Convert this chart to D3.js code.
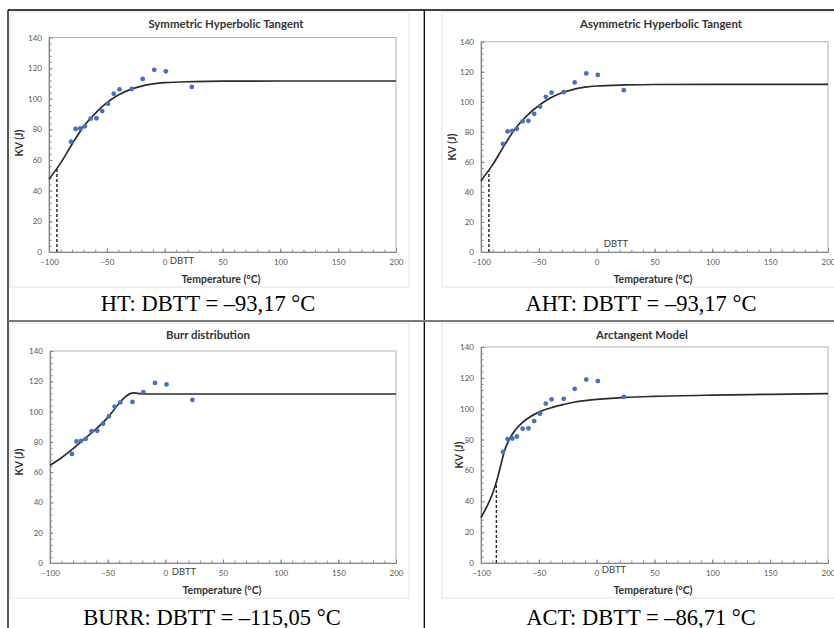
<!DOCTYPE html>
<html>
<head>
<meta charset="utf-8">
<script src="https://cdn.jsdelivr.net/npm/d3@7"></script>
<style>
  body { margin: 0; background: #fff; }
  svg { display: block; }
</style>
</head>
<body>
<svg id="fig" width="834" height="628"></svg>
<script>
// measured Charpy points, same in all four fits
const temps = [-81, -77, -73, -69, -64, -59, -54, -49, -44, -39, -28.5, -19, -9, 1, 23.5];
const kv = [72, 80.3, 80.7, 82, 87, 87.3, 92, 96.8, 103.3, 106.1, 106.4, 112.9, 118.9, 117.9, 107.7];

// fitted curves
const htT = [-100, -90, -80, -70, -60, -50, -40, -30, -20, -10, 0, 25, 50, 100, 200];
const htKV = [47.5, 58, 70.5, 82, 90.5, 97.5, 102.5, 106, 108.3, 109.7, 110.5, 111.2, 111.5, 111.6, 111.6];
const ahtT = [-100, -90, -80, -70, -60, -50, -40, -30, -20, -10, 0, 25, 50, 100, 200];
const ahtKV = [47.5, 58, 70.8, 82.5, 91, 97.5, 102.5, 106, 108.3, 109.7, 110.5, 111.2, 111.5, 111.6, 111.6];
const burrT = [-100, -90, -80, -70, -60, -50, -40, -35, -30, -27, -22, -15, 0, 50, 200];
const burrKV = [64.5, 69.5, 75.5, 82, 88.5, 96, 105.5, 109.5, 112, 112.3, 111.8, 111.6, 111.6, 111.6, 111.6];
const actT = [-100, -95, -90, -86.7, -83, -80, -76, -70, -65, -60, -50, -40, -30, -20, -10, 0, 25, 50, 100, 150, 200];
const actKV = [29.5, 36.5, 45, 52.5, 63, 72, 79.5, 86.5, 90.5, 93.5, 97.8, 100.5, 102.5, 104.2, 105.3, 106, 107.3, 108, 108.8, 109.3, 109.8];

const titles = ["Symmetric Hyperbolic Tangent", "Asymmetric Hyperbolic Tangent", "Burr distribution", "Arctangent Model"];
const captions = ["HT: DBTT = \u201393,17 \u00b0C", "AHT: DBTT = \u201393,17 \u00b0C", "BURR: DBTT = \u2013115,05 \u00b0C", "ACT: DBTT = \u201386,71 \u00b0C"];
const dbtt = [-93.17, -93.17, null, -86.71];
const dbttKV = [54.5, 54.5, null, 52.5];
const xTicks = [-100, -50, 0, 50, 100, 150, 200];
const yTicks = [0, 20, 40, 60, 80, 100, 120, 140];

const curves = [[htT, htKV], [ahtT, ahtKV], [burrT, burrKV], [actT, actKV]];

// layout of each panel (pixels)
const panels = [
  { L: 49, R: 396, T: 37.5, B: 252, area: [10, 12, 399, 275], titleX: 226, titleY: 24,
    kvX: 19, kvY: 143, tempX: 221, tempY: 279, capX: 208, capY: 311, dbX: 182, dbY: 261 },
  { L: 481, R: 828, T: 41.7, B: 252, area: [442, 12, 400, 275], titleX: 661, titleY: 24,
    kvX: 452, kvY: 147, tempX: 653, tempY: 279, capX: 641, capY: 311, dbX: 616, dbY: 244 },
  { L: 50, R: 396, T: 351, B: 563, area: [10, 323, 399, 275], titleX: 208, titleY: 335,
    kvX: 19, kvY: 462, tempX: 222, tempY: 590, capX: 212, capY: 624.5, dbX: 184, dbY: 572 },
  { L: 481, R: 828, T: 347, B: 563, area: [442, 323, 400, 275], titleX: 642, titleY: 335,
    kvX: 459, kvY: 455, tempX: 653, tempY: 590, capX: 641, capY: 624.5, dbX: 614, dbY: 570 }
];

const svg = d3.select("#fig");
const sans = "Lato, 'Open Sans', sans-serif";

function drawPanel(i) {
  const p = panels[i];
  const g = svg.append("g");

  g.append("rect")
    .attr("x", p.area[0]).attr("y", p.area[1])
    .attr("width", p.area[2]).attr("height", p.area[3])
    .attr("fill", "#fff").attr("stroke", "#e3e3e3").attr("stroke-width", 1);

  const x = d3.scaleLinear().domain([-100, 200]).range([p.L, p.R]);
  const y = d3.scaleLinear().domain([0, 140]).range([p.B, p.T]);

  g.append("rect")
    .attr("x", p.L).attr("y", p.T)
    .attr("width", p.R - p.L).attr("height", p.B - p.T)
    .attr("fill", "none").attr("stroke", "#b3b3b3").attr("stroke-width", 1);

  // minor ticks
  g.append("g").attr("transform", `translate(0,${p.B})`)
    .call(d3.axisBottom(x).tickValues(d3.range(-90, 200, 10)).tickSize(-2.5).tickFormat(""))
    .call(a => a.select(".domain").remove())
    .call(a => a.selectAll("line").attr("stroke", "#8c8c8c"));
  g.append("g").attr("transform", `translate(${p.L},0)`)
    .call(d3.axisLeft(y).tickValues(d3.range(4, 140, 4)).tickSize(-2.5).tickFormat(""))
    .call(a => a.select(".domain").remove())
    .call(a => a.selectAll("line").attr("stroke", "#8c8c8c"));

  const xa = g.append("g").attr("transform", `translate(0,${p.B})`)
    .call(d3.axisBottom(x).tickValues(xTicks).tickSizeInner(-3.5).tickSizeOuter(0).tickPadding(7));
  const ya = g.append("g").attr("transform", `translate(${p.L},0)`)
    .call(d3.axisLeft(y).tickValues(yTicks).tickSizeInner(-3.5).tickSizeOuter(0).tickPadding(7));
  [xa, ya].forEach(a => {
    a.select(".domain").attr("stroke", "#868686").attr("stroke-width", 1.2);
    a.selectAll("line").attr("stroke", "#868686");
    a.selectAll("text").attr("fill", "#595959").style("font", `8px ${sans}`);
  });

  // dashed DBTT marker
  if (dbtt[i] !== null) {
    g.append("line")
      .attr("x1", x(dbtt[i])).attr("x2", x(dbtt[i]))
      .attr("y1", y(0)).attr("y2", y(dbttKV[i]))
      .attr("stroke", "#222").attr("stroke-width", 1.4)
      .attr("stroke-dasharray", "3,2");
  }

  const [ct, cv] = curves[i];
  const line = d3.line()
    .x(d => x(d[0])).y(d => y(d[1]))
    .curve(d3.curveMonotoneX);
  g.append("path")
    .attr("d", line(ct.map((t, k) => [t, cv[k]])))
    .attr("fill", "none").attr("stroke", "#2b2b2b").attr("stroke-width", 1.7);

  g.selectAll("circle.pt")
    .data(temps.map((t, k) => [t, kv[k]]))
    .join("circle")
    .attr("class", "pt")
    .attr("cx", d => x(d[0])).attr("cy", d => y(d[1]))
    .attr("r", 2.4).attr("fill", "#4472c4");

  g.append("text")
    .attr("x", p.titleX).attr("y", p.titleY).attr("dy", "0.35em")
    .attr("text-anchor", "middle").attr("fill", "#333")
    .style("font", `bold 11.4px ${sans}`)
    .text(titles[i]);

  g.append("text")
    .attr("transform", `translate(${p.kvX},${p.kvY}) rotate(-90)`)
    .attr("dy", "0.35em").attr("text-anchor", "middle").attr("fill", "#333")
    .style("font", `bold 10.5px ${sans}`)
    .text("KV (J)");

  g.append("text")
    .attr("x", p.tempX).attr("y", p.tempY).attr("dy", "0.35em")
    .attr("text-anchor", "middle").attr("fill", "#333")
    .style("font", `bold 10.5px ${sans}`)
    .text("Temperature (\u00b0C)");

  g.append("text")
    .attr("x", p.dbX).attr("y", p.dbY).attr("dy", "0.35em")
    .attr("text-anchor", "middle").attr("fill", "#404040")
    .style("font", `9.5px ${sans}`)
    .text("DBTT");

  g.append("text")
    .attr("x", p.capX).attr("y", p.capY)
    .attr("text-anchor", "middle").attr("fill", "#000")
    .style("font", "22.5px 'Liberation Serif', 'Times New Roman', serif")
    .text(captions[i]);
}

d3.range(4).forEach(drawPanel);

// table rules
svg.append("line").attr("x1", 8).attr("x2", 834).attr("y1", 10).attr("y2", 10)
  .attr("stroke", "#000").attr("stroke-width", 1.3);
svg.append("line").attr("x1", 8).attr("x2", 8).attr("y1", 10).attr("y2", 628)
  .attr("stroke", "#000").attr("stroke-width", 1.3);
svg.append("line").attr("x1", 424.3).attr("x2", 424.3).attr("y1", 10).attr("y2", 628)
  .attr("stroke", "#000").attr("stroke-width", 1.3);
svg.append("line").attr("x1", 8).attr("x2", 834).attr("y1", 321).attr("y2", 321)
  .attr("stroke", "#7a7a7a").attr("stroke-width", 1.8);
</script>
</body>
</html>
